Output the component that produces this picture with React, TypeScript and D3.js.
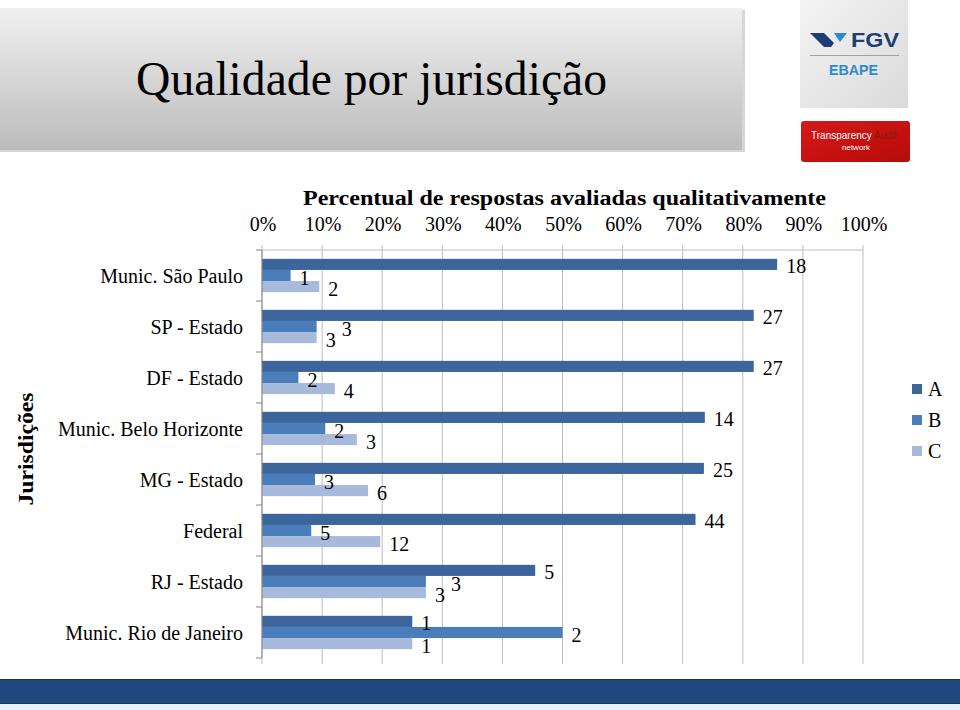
import React from "react";
import * as d3 from "d3";

const categories = [
  "Munic. São Paulo",
  "SP - Estado",
  "DF - Estado",
  "Munic. Belo Horizonte",
  "MG - Estado",
  "Federal",
  "RJ - Estado",
  "Munic. Rio de Janeiro",
];
const seriesNames = ["A", "B", "C"];
const seriesA = [18, 27, 27, 14, 25, 44, 5, 1];
const seriesB = [1, 3, 2, 2, 3, 5, 3, 2];
const seriesC = [2, 3, 4, 3, 6, 12, 3, 1];
const colors = ["#3b659b", "#4a7ebb", "#a8badb"];

const W = 960;
const H = 710;
const serif = "'Liberation Serif', 'Times New Roman', serif";
const sans = "'Liberation Sans', Arial, sans-serif";

export default function App() {
  const series = [seriesA, seriesB, seriesC];
  const totals = categories.map((_, i) => seriesA[i] + seriesB[i] + seriesC[i]);

  const x = d3.scaleLinear().domain([0, 1]).range([262, 863]);
  const y0 = d3
    .scaleBand<string>()
    .domain(categories)
    .range([250, 658])
    .paddingInner(0.347)
    .paddingOuter(0.1735);
  const y1 = d3
    .scaleBand<string>()
    .domain(seriesNames)
    .range([0, y0.bandwidth()]);
  const ticks = d3.range(0, 11).map((d) => d / 10);
  const fmt = d3.format(".0%");
  const step = y0.step();
  const plotTop = 250;
  const plotBottom = 658;

  // label x positions, nudging a label right when it would collide with the one below it
  const labelX = categories.map((c, i) => {
    const xs = seriesNames.map((s, k) => x(series[k][i] / totals[i]) + 9);
    for (let k = 1; k >= 0; k--) {
      if (Math.abs(xs[k] - xs[k + 1]) < 14) xs[k] = xs[k + 1] + 16;
    }
    return xs;
  });

  return (
    <svg
      width={W}
      height={H}
      style={{ position: "absolute", left: 0, top: 0, background: "#fff" }}
    >
      <defs>
        <linearGradient id="hdr" x1="0" y1="0" x2="0" y2="1">
          <stop offset="0" stopColor="#f0f0f0" />
          <stop offset="1" stopColor="#bcbcbc" />
        </linearGradient>
        <linearGradient id="logo" x1="0" y1="0" x2="1" y2="1">
          <stop offset="0" stopColor="#f4f4f4" />
          <stop offset="1" stopColor="#dadada" />
        </linearGradient>
        <linearGradient id="red" x1="0" y1="0" x2="1" y2="1">
          <stop offset="0" stopColor="#d41a1a" />
          <stop offset="0.6" stopColor="#c3100f" />
          <stop offset="1" stopColor="#b50c0c" />
        </linearGradient>
      </defs>

      {/* Header */}
      <rect x={0} y={10} width={745} height={142} fill="#d6d6d6" />
      <rect x={0} y={8} width={742} height={142} fill="url(#hdr)" />
      <text
        x={136}
        y={95}
        fontFamily={serif}
        fontSize={48}
        textLength={471}
        lengthAdjust="spacingAndGlyphs"
        fill="#000"
      >
        Qualidade por jurisdição
      </text>

      {/* FGV logo */}
      <rect x={800} y={0} width={108} height={108} fill="url(#logo)" />
      <polygon points="810,33 824,33 834,43 831,47 824,47" fill="#1e3d73" />
      <polygon points="834,33 847,33 840,42" fill="#2f8ad0" />
      <text
        x={851}
        y={47}
        fontFamily={sans}
        fontWeight="bold"
        fontSize={20}
        textLength={48}
        lengthAdjust="spacingAndGlyphs"
        fill="#1e3d73"
      >
        FGV
      </text>
      <line x1={810} x2={899} y1={55.5} y2={55.5} stroke="#9aa4b0" strokeWidth={1} />
      <text
        x={829}
        y={75}
        fontFamily={sans}
        fontWeight="bold"
        fontSize={14}
        textLength={49}
        lengthAdjust="spacingAndGlyphs"
        fill="#2b8bcf"
      >
        EBAPE
      </text>

      {/* Transparency Audit logo */}
      <rect x={801} y={121} width={109} height={41} rx={3} fill="url(#red)" />
      <text x={811} y={139} fontFamily={sans} fontSize={10} fill="#fff">
        Transparency<tspan fill="#8a1c10"> Audit</tspan>
      </text>
      <text x={856} y={150} fontFamily={sans} fontSize={8} fill="#fff" textAnchor="middle">
        network
      </text>

      {/* Chart title */}
      <text
        x={564.5}
        y={205}
        fontFamily={serif}
        fontWeight="bold"
        fontSize={20}
        textAnchor="middle"
        textLength={523}
        lengthAdjust="spacingAndGlyphs"
      >
        Percentual de respostas avaliadas qualitativamente
      </text>

      {/* Top axis labels */}
      {ticks.map((t) => (
        <text
          key={"tl" + t}
          x={x(t) + 1}
          y={231}
          fontFamily={serif}
          fontSize={20}
          textAnchor="middle"
        >
          {fmt(t)}
        </text>
      ))}

      {/* Gridlines */}
      {ticks.map((t) => (
        <line
          key={"g" + t}
          x1={x(t)}
          x2={x(t)}
          y1={plotTop - 5}
          y2={plotBottom + 6}
          stroke="#bdbdbd"
          strokeWidth={1}
        />
      ))}
      <line x1={x(0)} x2={x(1)} y1={plotTop} y2={plotTop} stroke="#bdbdbd" strokeWidth={1} />

      {/* Bars */}
      {categories.map((c, i) =>
        seriesNames.map((s, k) => {
          const v = series[k][i] / totals[i];
          return (
            <rect
              key={c + s}
              x={x(0)}
              y={(y0(c) as number) + (y1(s) as number)}
              width={x(v) - x(0)}
              height={y1.bandwidth()}
              fill={colors[k]}
            />
          );
        })
      )}

      {/* Left axis */}
      <line x1={x(0)} x2={x(0)} y1={plotTop} y2={plotBottom} stroke="#868686" strokeWidth={1} />
      {d3.range(0, categories.length + 1).map((j) => (
        <line
          key={"lt" + j}
          x1={x(0) - 6}
          x2={x(0)}
          y1={plotTop + j * step}
          y2={plotTop + j * step}
          stroke="#868686"
          strokeWidth={1}
        />
      ))}

      {/* Value labels */}
      {categories.map((c, i) =>
        seriesNames.map((s, k) => (
          <text
            key={"v" + c + s}
            x={labelX[i][k]}
            y={(y0(c) as number) + (y1(s) as number) + y1.bandwidth() / 2 + 2}
            dominantBaseline="central"
            fontFamily={serif}
            fontSize={20}
          >
            {series[k][i]}
          </text>
        ))
      )}

      {/* Category labels */}
      {categories.map((c) => (
        <text
          key={"c" + c}
          x={243}
          y={(y0(c) as number) + y0.bandwidth() / 2}
          dy="0.35em"
          textAnchor="end"
          fontFamily={serif}
          fontSize={20}
        >
          {c}
        </text>
      ))}

      {/* Y title */}
      <text
        transform="translate(33,449) rotate(-90)"
        textAnchor="middle"
        fontFamily={serif}
        fontWeight="bold"
        fontSize={21}
        textLength={113}
        lengthAdjust="spacingAndGlyphs"
      >
        Jurisdições
      </text>

      {/* Legend */}
      {seriesNames.map((s, k) => (
        <g key={"lg" + s} transform={`translate(912,${384 + k * 31})`}>
          <rect x={0} y={0} width={10} height={10} fill={colors[k]} />
          <text x={16} y={5} dy="0.35em" fontFamily={serif} fontSize={20}>
            {s}
          </text>
        </g>
      ))}

      {/* Bottom band */}
      <rect x={0} y={679} width={W} height={25} fill="#1f497d" />
      <line x1={0} x2={W} y1={679.5} y2={679.5} stroke="#17365d" strokeWidth={1} />
      <line x1={0} x2={W} y1={703.5} y2={703.5} stroke="#17365d" strokeWidth={1} />
      <rect x={0} y={704} width={W} height={6} fill="#e6f0f8" />
    </svg>
  );
}
